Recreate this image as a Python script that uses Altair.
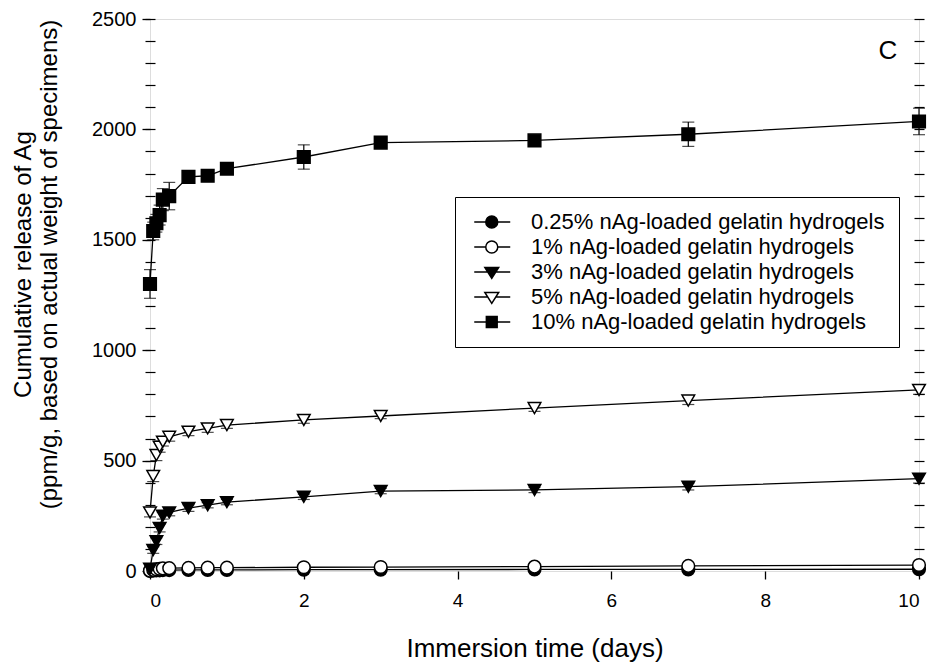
import altair as alt
import pandas as pd

# ---- data ----
times = [0, 0.042, 0.083, 0.125, 0.167, 0.25, 0.5, 0.75, 1, 2, 3, 5, 7, 10]

series_names = [
    "0.25% nAg-loaded gelatin hydrogels",
    "1% nAg-loaded gelatin hydrogels",
    "3% nAg-loaded gelatin hydrogels",
    "5% nAg-loaded gelatin hydrogels",
    "10% nAg-loaded gelatin hydrogels",
]

release_025 = [0, 2, 3, 3, 4, 4, 5, 5, 5, 6, 6, 7, 7, 8]
release_1 = [2, 5, 8, 10, 12, 13, 14, 15, 15, 17, 18, 20, 23, 27]
release_3 = [10, 95, 135, 195, 250, 265, 285, 298, 312, 336, 362, 367, 382, 418]
release_5 = [265, 430, 525, 563, 586, 608, 631, 646, 661, 684, 702, 738, 772, 820]
release_10 = [1300, 1540, 1575, 1612, 1682, 1698, 1785, 1790, 1822, 1875, 1940, 1950, 1978, 2036]

err_025 = [0, 1, 1, 1, 1, 1, 1, 1, 1, 1, 1, 1, 1, 2]
err_1 = [1, 2, 2, 2, 2, 2, 2, 2, 2, 3, 3, 3, 3, 4]
err_3 = [5, 15, 15, 18, 15, 15, 15, 12, 12, 12, 12, 12, 15, 20]
err_5 = [20, 25, 25, 25, 20, 20, 18, 18, 15, 15, 12, 15, 18, 20]
err_10 = [65, 40, 40, 45, 50, 62, 20, 18, 25, 55, 15, 15, 55, 60]

y_major = [0, 500, 1000, 1500, 2000, 2500]
y_minor = list(range(0, 2501, 100))
x_major = [0, 2, 4, 6, 8, 10]

# ---- build table ----
rows = []
for name, vals, errs in zip(
    series_names,
    [release_025, release_1, release_3, release_5, release_10],
    [err_025, err_1, err_3, err_5, err_10],
):
    for t, v, e in zip(times, vals, errs):
        rows.append({"series": name, "t": t, "v": v, "lo": v - e, "hi": v + e})
df = pd.DataFrame(rows)

FONT = "Liberation Sans"

plot_shapes = ["circle", "circle", "triangle-down", "triangle-down", "square"]
plot_fills = ["black", "white", "black", "white", "black"]
plot_strokes = ["black"] * 5
plot_sizes = [160, 160, 190, 190, 125]

# legend symbols: marker with a short line through it (units of sqrt(size)/2)
legend_paths = [
    "M-0.96,0H0.96M2.96,0A1,1 0 1,1 0.96,0A1,1 0 1,1 2.96,0ZM2.96,0H5.04",
    "M-0.96,0H0.96M2.96,0A1,1 0 1,1 0.96,0A1,1 0 1,1 2.96,0ZM2.96,0H5.04",
    "M-0.96,0H1.29M2.63,0H5.04M0.81,-0.75L3.11,-0.75L1.96,1.05Z",
    "M-0.96,0H1.29M2.63,0H5.04M0.81,-0.75L3.11,-0.75L1.96,1.05Z",
    "M-0.96,0H1.06M2.86,0H5.04M1.06,-0.9H2.86V0.9H1.06Z",
]

xscale = alt.Scale(domain=[0, 10], nice=False)
yscale = alt.Scale(domain=[0, 2500], nice=False)

x_enc = alt.X(
    "t:Q",
    scale=xscale,
    axis=alt.Axis(
        values=x_major,
        format="d",
        tickSize=8,
        tickWidth=1.3,
        tickColor="black",
        domain=False,
        grid=False,
        labelFont=FONT,
        labelFontSize=19,
        labelColor="black",
        labelPadding=12,
        title="Immersion time (days)",
        titleFont=FONT,
        titleFontSize=26,
        titleFontWeight="normal",
        titleColor="black",
        titlePadding=25,
    ),
)

base = alt.Chart(df)

lines = base.mark_line(color="black", strokeWidth=1.3).encode(
    x=x_enc,
    y=alt.Y(
        "v:Q",
        scale=yscale,
        axis=alt.Axis(
            orient="left",
            values=y_major,
            format="d",
            tickSize=8,
            tickWidth=1.3,
            tickColor="black",
            domain=False,
            grid=False,
            labelFont=FONT,
            labelFontSize=20,
            labelColor="black",
            labelPadding=6,
            title=["Cumulative release of Ag", "(ppm/g, based on actual weight of specimens)"],
            titleFont=FONT,
            titleFontSize=24,
            titleFontWeight="normal",
            titleColor="black",
            titleLineHeight=26,
            titlePadding=30,
            titleY=245,
        ),
    ),
    detail="series:N",
)

bars = base.mark_rule(color="black", strokeWidth=1.2).encode(
    x=x_enc,
    y=alt.Y(
        "lo:Q",
        scale=yscale,
        axis=alt.Axis(
            orient="left",
            offset=-5,
            values=y_minor,
            tickSize=10,
            tickWidth=1.2,
            tickColor="black",
            domain=False,
            grid=False,
            labels=False,
            title=None,
        ),
    ),
    y2="hi:Q",
)

caps = (
    base.transform_fold(["lo", "hi"], as_=["which", "val"])
    .mark_tick(color="black", orient="horizontal", size=12, thickness=1.2)
    .encode(
        x=x_enc,
        y=alt.Y(
            "val:Q",
            scale=yscale,
            axis=alt.Axis(
                orient="right",
                offset=-5,
                values=y_minor,
                tickSize=10,
                tickWidth=1.2,
                tickColor="black",
                domain=False,
                grid=False,
                labels=False,
                title=None,
            ),
        ),
    )
)

markers = base.mark_point(filled=True, stroke="black", strokeWidth=1.5, opacity=1).encode(
    x=x_enc,
    y=alt.Y("v:Q", scale=yscale, axis=None),
    shape=alt.Shape("series:N", scale=alt.Scale(domain=series_names, range=plot_shapes), legend=None),
    fill=alt.Fill("series:N", scale=alt.Scale(domain=series_names, range=plot_fills), legend=None),
    size=alt.Size("series:N", scale=alt.Scale(domain=series_names, range=plot_sizes), legend=None),
)

legend_def = alt.Legend(
    title=None,
    orient="none",
    legendX=305,
    legendY=178,
    padding=14,
    strokeColor="black",
    fillColor="white",
    labelFont=FONT,
    labelFontSize=22,
    labelColor="black",
    labelLimit=600,
    labelOffset=40,
    rowPadding=3,
    symbolSize=144,
    symbolStrokeColor="black",
    symbolStrokeWidth=1.5,
)

legend_layer = (
    base.transform_filter("false")
    .mark_point(filled=True, strokeWidth=1.5, opacity=1)
    .encode(
        x=x_enc,
        y=alt.Y("v:Q", scale=yscale, axis=None),
        shape=alt.Shape("series:N", scale=alt.Scale(domain=series_names, range=legend_paths), legend=legend_def),
        fill=alt.Fill("series:N", scale=alt.Scale(domain=series_names, range=plot_fills), legend=legend_def),
        stroke=alt.Stroke("series:N", scale=alt.Scale(domain=series_names, range=plot_strokes), legend=legend_def),
    )
)

chart = (
    alt.layer(lines, bars, caps, markers, legend_layer)
    .resolve_scale(shape="independent", fill="independent", stroke="independent")
    .resolve_axis(y="independent")
    .properties(
        width=769,
        height=552,
        autosize=alt.AutoSizeParams(type="none"),
        padding={"left": 150, "top": 19, "right": 12, "bottom": 91},
        title=alt.TitleParams(
            "C",
            anchor="end",
            orient="top",
            font=FONT,
            fontSize=26,
            fontWeight="normal",
            color="black",
            dx=-31,
            dy=59,
        ),
    )
    .configure_view(stroke="black", strokeWidth=1.5)
    .configure(background="white")
)

chart.save("out.html", embed_options={"renderer": "svg", "actions": False})
